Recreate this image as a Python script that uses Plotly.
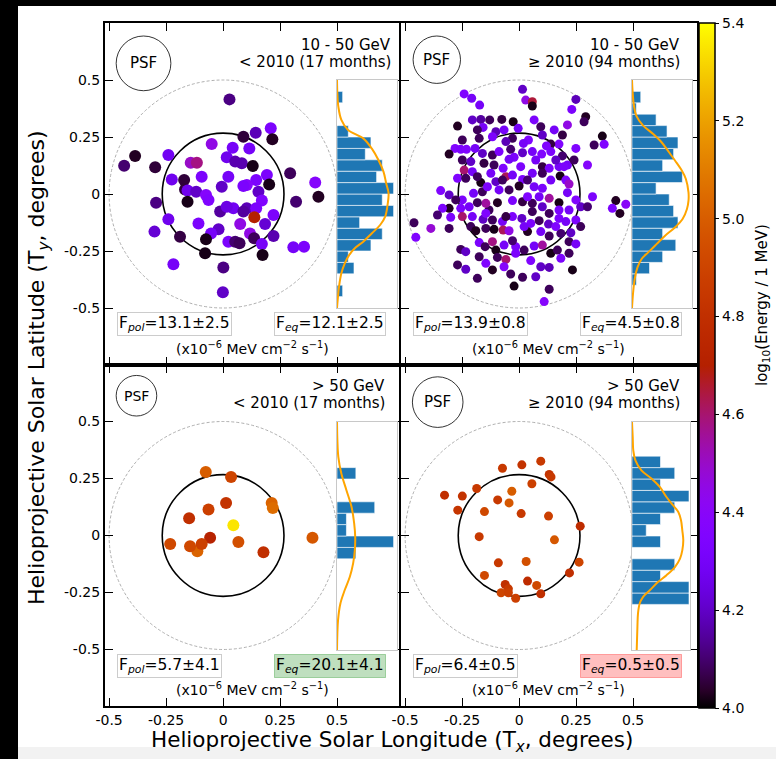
import numpy as np
import plotly.graph_objects as go

W, H = 776, 759

# ---------------- data ----------------
# Top-left: 10-50 GeV, < 2010
tl_x = [0.028, 0.143, 0.209, 0.089, 0.216, -0.050, 0.042, 0.115, -0.386, -0.434,
        -0.298, -0.240, -0.142, -0.115, 0.016, 0.053, 0.082, 0.130, 0.294, -0.225,
        -0.171, -0.094, 0.023, 0.192, 0.145, 0.104, 0.202, 0.404, -0.167, -0.156,
        -0.118, -0.075, -0.006, 0.089, 0.155, 0.418, -0.156, -0.294, -0.064, 0.170,
        0.320, -0.013, 0.045, 0.104, 0.145, 0.137, 0.221, -0.240, -0.108, 0.075,
        0.184, -0.301, -0.020, -0.053, 0.118, -0.189, -0.075, 0.221, 0.136, 0.023,
        0.053, 0.072, 0.170, 0.308, 0.355, -0.079, 0.173, -0.218, 0.001, -0.001,
        0.016, 0.089]
tl_y = [0.415, 0.269, 0.288, 0.251, 0.240, 0.219, 0.203, 0.200, 0.167, 0.124,
        0.117, 0.171, 0.137, 0.137, 0.161, 0.142, 0.135, 0.123, 0.091, 0.064,
        0.061, 0.076, 0.076, 0.083, 0.061, 0.039, 0.042, 0.050, 0.020, 0.015,
        0.010, -0.004, 0.032, 0.035, 0.010, -0.012, -0.034, -0.038, -0.026, -0.029,
        -0.034, -0.077, -0.063, -0.063, -0.063, -0.102, -0.092, -0.111, -0.129, -0.132,
        -0.132, -0.165, -0.155, -0.173, -0.173, -0.187, -0.199, -0.184, -0.194, -0.209,
        -0.209, -0.216, -0.219, -0.234, -0.231, -0.260, -0.268, -0.308, -0.322, -0.431,
        -0.056, -0.077]
tl_e = [4.12, 4.18, 4.33, 4.05, 4.03, 4.45, 4.30, 4.30, 4.03, 4.10,
        4.05, 4.28, 4.50, 4.58, 4.27, 4.17, 4.17, 4.02, 4.08, 4.27,
        4.05, 4.33, 4.30, 4.33, 4.33, 4.38, 4.02, 4.38, 4.05, 4.27,
        4.20, 4.38, 4.20, 4.33, 4.20, 4.03, 4.02, 4.12, 4.35, 4.35,
        4.10, 4.15, 4.28, 4.18, 4.33, 4.70, 4.33, 4.27, 4.33, 4.45,
        4.22, 4.22, 4.20, 4.30, 4.45, 4.06, 4.02, 4.17, 4.08, 4.33,
        4.10, 4.08, 4.30, 4.30, 4.33, 4.02, 4.02, 4.30, 4.12, 4.20,
        4.25, 4.15]

# Top-right: 10-50 GeV, >= 2010
tr_x = [-0.241, -0.208, 0.015, 0.029, 0.058, 0.058, 0.249, 0.231, -0.173, 0.292,
        0.285, 0.212, 0.095, -0.270, -0.168, -0.129, -0.076, -0.026, -0.158, -0.102,
        -0.066, -0.004, -0.183, 0.102, 0.041, 0.365, 0.373, 0.329, 0.175, 0.139,
        -0.029, -0.058, -0.117, -0.175, 0.019, -0.037, -0.281, -0.256, -0.231, -0.193,
        -0.307, -0.161, -0.117, -0.022, 0.015, 0.058, 0.099, 0.139, 0.190, 0.249,
        0.300, 0.212, -0.249, -0.212, -0.154, -0.110, -0.044, 0.007, 0.102, 0.132,
        0.175, -0.241, -0.205, -0.270, -0.234, -0.168, -0.124, -0.102, -0.058, -0.073,
        -0.029, 0.015, 0.058, 0.102, 0.139, 0.180, 0.205, 0.219, 0.000, 0.037,
        0.066, 0.102, -0.344, -0.307, -0.249, -0.200, -0.161, -0.088, -0.029, 0.015,
        0.058, 0.102, 0.132, 0.175, 0.212, 0.322, 0.424, 0.468, 0.409, 0.442,
        0.270, 0.219, 0.175, 0.132, 0.058, -0.095, -0.132, -0.146, -0.183, -0.219,
        -0.256, -0.307, -0.461, -0.453, -0.387, -0.307, -0.300, -0.249, -0.205, -0.158,
        -0.117, -0.073, -0.029, 0.012, 0.051, 0.088, 0.129, 0.175, 0.205, -0.212,
        -0.190, -0.146, -0.110, -0.070, -0.044, 0.037, 0.132, 0.183, 0.227, -0.256,
        -0.234, -0.175, -0.149, -0.117, -0.102, -0.066, -0.015, 0.022, 0.066, 0.102,
        0.139, 0.168, 0.219, 0.183, -0.095, -0.058, -0.146, -0.066, -0.270, -0.234,
        0.051, 0.095, 0.132, 0.234, -0.037, 0.015, -0.183, -0.022, 0.132, 0.110,
        0.120, 0.197, 0.241, 0.161, 0.073, -0.070, -0.183, -0.139, -0.044, 0.088,
        0.249, 0.300, 0.249, 0.270, 0.095, -0.029, 0.249, 0.219, 0.073, -0.336,
        -0.278, -0.358, -0.146, -0.058, 0.022, 0.161, -0.015, -0.175, -0.117, 0.037,
        -0.088, -0.249, 0.154, 0.190, 0.066, -0.205]
tr_y = [0.439, 0.420, 0.459, 0.412, 0.405, 0.386, 0.415, 0.371, 0.390, 0.339,
        0.317, 0.303, 0.295, 0.298, 0.327, 0.325, 0.327, 0.317, 0.292, 0.273,
        0.281, 0.288, 0.281, 0.259, 0.237, 0.254, 0.218, 0.215, 0.219, 0.219,
        0.244, 0.230, 0.251, 0.244, 0.222, 0.196, 0.200, 0.196, 0.196, 0.200,
        0.175, 0.178, 0.171, 0.161, 0.181, 0.186, 0.175, 0.186, 0.167, 0.200,
        0.127, 0.127, 0.149, 0.142, 0.135, 0.127, 0.152, 0.120, 0.120, 0.113,
        0.120, 0.105, 0.098, 0.069, 0.069, 0.050, 0.091, 0.054, 0.076, 0.061,
        0.083, 0.064, 0.091, 0.091, 0.061, 0.079, 0.061, 0.044, 0.035, 0.061,
        0.032, 0.025, 0.015, -0.004, -0.026, 0.003, 0.010, 0.018, -0.029, -0.034,
        -0.041, -0.056, -0.019, -0.038, 0.006, -0.012, -0.029, -0.045, -0.063, -0.085,
        -0.056, -0.070, -0.070, -0.085, -0.077, -0.038, -0.070, -0.041, -0.038, -0.056,
        -0.063, -0.063, -0.126, -0.190, -0.151, -0.151, -0.102, -0.099, -0.099, -0.111,
        -0.114, -0.121, -0.099, -0.107, -0.129, -0.117, -0.132, -0.107, -0.121, -0.143,
        -0.161, -0.151, -0.155, -0.158, -0.161, -0.165, -0.184, -0.173, -0.170, -0.243,
        -0.253, -0.213, -0.231, -0.209, -0.246, -0.224, -0.231, -0.246, -0.228, -0.224,
        -0.260, -0.246, -0.209, -0.282, -0.278, -0.287, -0.304, -0.319, -0.311, -0.330,
        -0.292, -0.319, -0.322, -0.333, -0.351, -0.365, -0.370, -0.404, -0.418, -0.472,
        0.211, 0.120, 0.149, 0.149, 0.149, 0.113, 0.076, 0.032, 0.018, -0.012,
        -0.026, -0.056, -0.114, -0.143, -0.165, -0.205, -0.219, -0.260, -0.363, -0.063,
        -0.026, -0.092, -0.085, -0.099, -0.143, -0.143, -0.260, -0.275, -0.333, -0.012,
        0.186, 0.237, 0.281, 0.259, 0.325, 0.325]
tr_e = [4.35, 4.30, 4.20, 4.45, 4.65, 4.02, 4.18, 4.33, 4.30, 4.03,
        4.08, 4.45, 4.08, 4.03, 4.15, 4.08, 4.06, 4.02, 4.30, 4.18,
        4.30, 4.30, 4.08, 4.20, 4.35, 4.02, 4.35, 4.08, 4.35, 4.06,
        4.08, 4.18, 4.33, 4.08, 4.30, 4.10, 4.35, 4.33, 4.35, 4.30,
        4.03, 4.20, 4.08, 4.33, 4.20, 4.30, 4.35, 4.33, 4.10, 4.35,
        4.38, 4.30, 4.08, 4.20, 4.06, 4.08, 4.30, 4.33, 4.06, 4.33,
        4.30, 4.60, 4.30, 4.35, 4.08, 4.02, 4.30, 4.20, 4.62, 4.08,
        4.30, 4.33, 4.30, 4.08, 4.30, 4.02, 4.35, 4.50, 4.03, 4.10,
        4.30, 4.33, 4.35, 4.20, 4.33, 4.30, 4.08, 4.30, 4.33, 4.06,
        4.08, 4.20, 4.55, 4.02, 4.30, 4.33, 4.03, 4.40, 4.33, 4.03,
        4.20, 4.30, 4.33, 4.08, 4.08, 4.03, 4.08, 4.55, 4.08, 4.30,
        4.33, 4.03, 4.08, 4.35, 4.48, 4.08, 4.33, 4.60, 4.30, 4.20,
        4.08, 4.30, 4.33, 4.20, 4.33, 4.08, 4.20, 4.33, 4.30, 4.08,
        4.03, 4.08, 4.02, 4.62, 4.45, 4.03, 4.08, 4.10, 4.20, 4.08,
        4.20, 4.33, 4.08, 4.58, 4.02, 4.30, 4.33, 4.08, 4.30, 4.55,
        4.02, 4.08, 4.08, 4.33, 4.08, 4.60, 4.35, 4.38, 4.08, 4.20,
        4.35, 4.20, 4.18, 4.02, 4.08, 4.08, 4.08, 4.02, 4.08, 4.38,
        4.35, 4.33, 4.08, 4.20, 4.30, 4.35, 4.08, 4.33, 4.08, 4.30,
        4.35, 4.10, 4.33, 4.08, 4.30, 4.10, 4.30, 4.08, 4.20, 4.33,
        4.08, 4.10, 4.35, 4.06, 4.30, 4.35, 4.33, 4.08, 4.03, 4.35,
        4.33, 4.08, 4.30, 4.06, 4.33, 4.20]

# Bottom-left: > 50 GeV, < 2010
bl_x = [-0.076, 0.035, 0.213, 0.218, 0.013, -0.064, -0.149, 0.045, -0.113, -0.057,
        -0.232, -0.145, -0.094, 0.067, 0.177, 0.392]
bl_y = [0.279, 0.257, 0.143, 0.121, 0.143, 0.114, 0.076, 0.045, -0.069, -0.010,
        -0.037, -0.047, -0.037, -0.029, -0.073, -0.010]
bl_e = [5.00, 4.90, 5.02, 5.05, 4.82, 4.88, 4.80, 5.35, 5.02, 4.72,
        4.92, 4.92, 4.88, 4.95, 4.80, 4.98]

# Bottom-right: > 50 GeV, >= 2010
br_x = [0.095, 0.012, -0.073, 0.132, 0.140, 0.056, -0.186, -0.032, -0.327, -0.249,
        -0.094, -0.044, -0.269, -0.152, 0.009, 0.129, 0.268, -0.175, 0.155, -0.091,
        0.031, 0.263, 0.221, -0.152, 0.037, 0.077, -0.061, -0.047, -0.079, -0.047,
        0.095, -0.015]
br_y = [0.326, 0.310, 0.295, 0.268, 0.257, 0.227, 0.206, 0.194, 0.177, 0.173,
        0.156, 0.143, 0.111, 0.105, 0.096, 0.085, 0.041, -0.005, -0.019, -0.120,
        -0.114, -0.117, -0.164, -0.175, -0.200, -0.219, -0.215, -0.234, -0.251, -0.251,
        -0.256, -0.275]
br_e = [4.85, 4.82, 4.85, 4.82, 4.85, 4.88, 4.85, 5.00, 4.80, 4.82,
        4.85, 4.98, 4.83, 4.92, 4.85, 4.88, 4.78, 4.85, 4.98, 4.85,
        4.95, 4.90, 4.80, 4.92, 4.78, 4.92, 4.80, 4.85, 4.90, 4.88,
        4.80, 4.88]

# latitude histograms (bins of 0.05 deg from -0.5 to 0.5)
bin_centers = [-0.475, -0.425, -0.375, -0.325, -0.275, -0.225, -0.175, -0.125, -0.075, -0.025,
               0.025, 0.075, 0.125, 0.175, 0.225, 0.275, 0.325, 0.375, 0.425, 0.475]
tl_counts = [0, 1, 0, 3, 2, 6, 8, 4, 10, 8, 10, 7, 8, 5, 6, 2, 0, 0, 1, 0]
tr_counts = [0, 0, 2, 8, 14, 20, 14, 21, 19, 17, 11, 23, 14, 19, 21, 16, 11, 2, 4, 0]
bl_counts = [0, 0, 0, 0, 0, 0, 0, 0, 2, 6, 1, 1, 4, 0, 0, 2, 0, 0, 0, 0]
br_counts = [0, 0, 0, 0, 4, 4, 2, 3, 0, 2, 1, 2, 3, 4, 2, 3, 2, 0, 0, 0]

# smooth latitude profiles (orange curves)
tl_curve_y = [0.5, 0.442, 0.383, 0.325, 0.281, 0.244, 0.200, 0.149, 0.098, 0.047, 0.003,
              -0.048, -0.099, -0.136, -0.173, -0.209, -0.238, -0.268, -0.304, -0.348, -0.406, -0.465, -0.5]
tl_curve_x = [0, 0.06, 0.24, 0.77, 1.96, 4.64, 6.13, 7.32, 8.21, 8.69, 9.11,
              8.93, 8.51, 7.62, 6.13, 4.64, 3.15, 2.14, 1.37, 0.77, 0.36, 0.12, 0]
tr_curve_y = [0.5, 0.446, 0.387, 0.343, 0.300, 0.263, 0.227, 0.183, 0.146, 0.102, 0.066, 0.007,
              -0.029, -0.066, -0.110, -0.146, -0.183, -0.220, -0.256, -0.286, -0.322, -0.374, -0.433, -0.5]
tr_curve_x = [0, 0.3, 0.9, 2.0, 5.1, 9.7, 13.5, 16.9, 19.7, 22.8, 24.6, 25.8,
              25.8, 25.1, 23.1, 19.7, 15.1, 11.2, 7.4, 4.3, 2.5, 1.2, 0.5, 0]
bl_curve_y = [0.5, 0.420, 0.347, 0.274, 0.201, 0.128, 0.055, -0.004, -0.062, -0.120, -0.179,
              -0.237, -0.296, -0.369, -0.5]
bl_curve_x = [0, 0.04, 0.14, 0.46, 1.0, 1.54, 1.82, 1.93, 1.89, 1.71, 1.36, 0.82, 0.36, 0.11, 0]
br_curve_y = [0.5, 0.434, 0.376, 0.332, 0.288, 0.252, 0.215, 0.171, 0.134, 0.105, 0.069, 0.025,
              -0.019, -0.063, -0.099, -0.136, -0.172, -0.201, -0.238, -0.267, -0.296, -0.340, -0.398, -0.5]
br_curve_x = [0, 0.05, 0.09, 0.24, 0.66, 1.36, 1.95, 2.42, 2.89, 3.25, 3.44, 3.53,
              3.60, 3.53, 3.37, 3.01, 2.42, 1.84, 1.25, 0.78, 0.54, 0.42, 0.38, 0.33]
hist_xmax = [10.6, 27.4, 6.36, 4.07]

energy_labels = ["10 - 50 GeV", "10 - 50 GeV", "> 50 GeV", "> 50 GeV"]
period_labels = ["< 2010 (17 months)", "\u2265 2010 (94 months)", "< 2010 (17 months)", "\u2265 2010 (94 months)"]
f_pol = ["13.1\u00b12.5", "13.9\u00b10.8", "5.7\u00b14.1", "6.4\u00b10.5"]
f_eq = ["12.1\u00b12.5", "4.5\u00b10.8", "20.1\u00b14.1", "0.5\u00b10.5"]
psf_center_x = [-0.349, -0.361, -0.380, -0.357]
psf_center_y = [0.573, 0.589, 0.613, 0.585]
psf_radius = [0.120, 0.104, 0.089, 0.111]
sun_radius = 0.267
outer_radius = 0.5
axis_ticks = [-0.5, -0.25, 0, 0.25, 0.5]
axis_ticktext = ["-0.5", "-0.25", "0", "0.25", "0.5"]
cbar_ticks = [4.0, 4.2, 4.4, 4.6, 4.8, 5.0, 5.2, 5.4]
cbar_ticktext = ["4.0", "4.2", "4.4", "4.6", "4.8", "5.0", "5.2", "5.4"]

# ---------------- style ----------------
FONT = "DejaVu Sans"
SCALE = 228.0  # px per degree
eq_bg = ["white", "white", "rgba(0,128,0,0.25)", "rgba(255,0,0,0.25)"]
eq_border = ["#cccccc", "#cccccc", "rgba(0,128,0,0.3)", "rgba(255,0,0,0.3)"]
marker_size = [12, 9, 12, 9]
psf_font = [15, 15, 14, 15]
title_right = [0.746, 0.715, 0.719, 0.715]

# gnuplot colormap
def gnuplot(v):
    r = np.sqrt(v)
    g = v ** 3
    b = np.clip(np.sin(2 * np.pi * v), 0, 1)
    return "rgb(%d,%d,%d)" % (round(r * 255), round(g * 255), round(b * 255))

colorscale = [[float(v), gnuplot(v)] for v in np.linspace(0, 1, 41)]

panels = [
    dict(px=(105, 399), py=(23, 365), ipx=(337, 397), ipy=(80, 308)),
    dict(px=(401, 697), py=(23, 365), ipx=(632, 692), ipy=(80, 308)),
    dict(px=(105, 399), py=(365, 706), ipx=(337, 397), ipy=(422, 650)),
    dict(px=(401, 697), py=(365, 706), ipx=(632, 690), ipy=(422, 650)),
]
scat = [(tl_x, tl_y, tl_e), (tr_x, tr_y, tr_e), (bl_x, bl_y, bl_e), (br_x, br_y, br_e)]
counts = [tl_counts, tr_counts, bl_counts, br_counts]
curves = [(tl_curve_x, tl_curve_y), (tr_curve_x, tr_curve_y), (bl_curve_x, bl_curve_y), (br_curve_x, br_curve_y)]

fig = go.Figure()
layout = {}
shapes = []
annotations = []

for i, p in enumerate(panels):
    k = i + 1
    ki = i + 5
    xs = "" if k == 1 else str(k)
    xa, ya = "x" + xs, "y" + xs
    xai, yai = "x%d" % ki, "y%d" % ki
    px0, px1 = p["px"]
    py0, py1 = p["py"]
    xr = [-0.518, -0.518 + (px1 - px0) / SCALE]
    hy = (py1 - py0) / SCALE / 2
    yr = [-hy, hy]
    bottom = i >= 2
    left = i % 2 == 0
    common = dict(showline=True, linecolor="black", linewidth=2, mirror="ticks",
                  ticks="inside", ticklen=8, tickwidth=1.2, tickcolor="black",
                  tickvals=axis_ticks, ticktext=axis_ticktext,
                  tickfont=dict(family=FONT, size=14, color="black"),
                  showgrid=False, zeroline=False, automargin=False)
    layout["xaxis" + xs] = dict(domain=[px0 / W, px1 / W], range=xr, anchor=ya,
                                showticklabels=bottom, **common)
    layout["yaxis" + xs] = dict(domain=[1 - py1 / H, 1 - py0 / H], range=yr, anchor=xa,
                                showticklabels=left, **common)
    ipx0, ipx1 = p["ipx"]
    ipy0, ipy1 = p["ipy"]
    inset = dict(showline=True, linecolor="#c8c8c8", linewidth=1, mirror=True, ticks="",
                 showticklabels=False, showgrid=False, zeroline=False, automargin=False)
    layout["xaxis%d" % ki] = dict(domain=[ipx0 / W, ipx1 / W], range=[0, hist_xmax[i]], anchor=yai, **inset)
    layout["yaxis%d" % ki] = dict(domain=[1 - ipy1 / H, 1 - ipy0 / H], range=[-0.5, 0.5], anchor=xai, **inset)

    # circles
    shapes.append(dict(type="circle", xref=xa, yref=ya, x0=-outer_radius, x1=outer_radius,
                       y0=-outer_radius, y1=outer_radius, layer="below",
                       line=dict(color="#9a9a9a", width=0.8, dash="3px,2px")))
    shapes.append(dict(type="circle", xref=xa, yref=ya, x0=-sun_radius, x1=sun_radius,
                       y0=-sun_radius, y1=sun_radius, layer="below",
                       line=dict(color="black", width=1.6)))
    cx, cy, r = psf_center_x[i], psf_center_y[i], psf_radius[i]
    shapes.append(dict(type="circle", xref=xa, yref=ya, x0=cx - r, x1=cx + r, y0=cy - r, y1=cy + r,
                       line=dict(color="black", width=0.8)))

    # scatter
    sx, sy, se = scat[i]
    fig.add_trace(go.Scatter(x=sx, y=sy, mode="markers", xaxis=xa, yaxis=ya,
                             marker=dict(color=se, coloraxis="coloraxis", size=marker_size[i],
                                         line=dict(width=0)),
                             hoverinfo="skip"))
    # histogram
    fig.add_trace(go.Bar(x=counts[i], y=bin_centers, orientation="h", width=0.05,
                         xaxis=xai, yaxis=yai,
                         marker=dict(color="#1f77b4", line=dict(color="white", width=0.6))))
    cxv, cyv = curves[i]
    fig.add_trace(go.Scatter(x=cxv, y=cyv, mode="lines", xaxis=xai, yaxis=yai,
                             line=dict(color="orange", width=2, shape="spline")))

    # texts
    annotations.append(dict(text="PSF", x=cx, y=cy, xref=xa, yref=ya, showarrow=False,
                            font=dict(family=FONT, size=psf_font[i], color="black")))
    annotations.append(dict(text=energy_labels[i], x=title_right[i], y=0.654, xref=xa, yref=ya,
                            xanchor="right", yanchor="middle", showarrow=False,
                            font=dict(family=FONT, size=15, color="black")))
    annotations.append(dict(text=period_labels[i], x=title_right[i], y=0.580, xref=xa, yref=ya,
                            xanchor="right", yanchor="middle", showarrow=False,
                            font=dict(family=FONT, size=15, color="black")))
    annotations.append(dict(text="F<sub><i>pol</i></sub>=" + f_pol[i], x=-0.465, y=-0.572,
                            xref=xa, yref=ya, xanchor="left", yanchor="middle", showarrow=False,
                            bgcolor="white", bordercolor="#cccccc", borderwidth=1, borderpad=1,
                            font=dict(family=FONT, size=15.5, color="black")))
    annotations.append(dict(text="F<sub><i>eq</i></sub>=" + f_eq[i], x=0.715, y=-0.572,
                            xref=xa, yref=ya, xanchor="right", yanchor="middle", showarrow=False,
                            bgcolor=eq_bg[i], bordercolor=eq_border[i], borderwidth=1, borderpad=1,
                            font=dict(family=FONT, size=15.5, color="black")))
    annotations.append(dict(text="(x10<sup>\u22126</sup> MeV cm<sup>\u22122</sup> s<sup>\u22121</sup>)",
                            x=0.128, y=-0.675, xref=xa, yref=ya, xanchor="center", yanchor="middle",
                            showarrow=False, font=dict(family=FONT, size=14, color="black")))

# axis titles
annotations.append(dict(text="Helioprojective Solar Longitude (T<sub><i>x</i></sub>, degrees)",
                        x=392 / W, y=1 - 741 / H, xref="paper", yref="paper", showarrow=False,
                        xanchor="center", yanchor="middle",
                        font=dict(family=FONT, size=21.5, color="black")))
annotations.append(dict(text="Helioprojective Solar Latitude (T<sub><i>y</i></sub>, degrees)",
                        x=38 / W, y=1 - 368 / H, xref="paper", yref="paper", showarrow=False,
                        xanchor="center", yanchor="middle", textangle=-90,
                        font=dict(family=FONT, size=22, color="black")))
annotations.append(dict(text="log<sub>10</sub>(Energy / 1 MeV)",
                        x=762 / W, y=1 - 305 / H, xref="paper", yref="paper", showarrow=False,
                        xanchor="center", yanchor="middle", textangle=-90,
                        font=dict(family=FONT, size=15, color="black")))

# page framing (black strips / grey band of the scanned page)
shapes.append(dict(type="rect", xref="paper", yref="paper", x0=0, x1=18 / W, y0=0, y1=1,
                   fillcolor="black", line=dict(width=0), layer="above"))
shapes.append(dict(type="rect", xref="paper", yref="paper", x0=0, x1=1, y0=1 - 6 / H, y1=1,
                   fillcolor="black", line=dict(width=0), layer="above"))
shapes.append(dict(type="rect", xref="paper", yref="paper", x0=18 / W, x1=1, y0=0, y1=12 / H,
                   fillcolor="#f2f2f2", line=dict(width=0), layer="below"))

fig.update_layout(
    width=W, height=H, margin=dict(l=0, r=0, t=0, b=0, pad=0, autoexpand=False),
    paper_bgcolor="white", plot_bgcolor="white", showlegend=False,
    font=dict(family=FONT, color="black"),
    coloraxis=dict(colorscale=colorscale, cmin=4.0, cmax=5.4,
                   colorbar=dict(x=699 / W, xanchor="left", xpad=0, ypad=0,
                                 y=1 - 365.5 / H, yanchor="middle", len=685, lenmode="pixels",
                                 thickness=16, thicknessmode="pixels",
                                 outlinecolor="black", outlinewidth=1.5,
                                 tickvals=cbar_ticks, ticktext=cbar_ticktext,
                                 ticks="outside", ticklen=4, tickcolor="black",
                                 tickfont=dict(family=FONT, size=14, color="black"))),
    shapes=shapes, annotations=annotations,
    **layout,
)

post = (
    "document.body.style.margin='0';document.body.style.padding='0';"
    "document.body.style.overflow='hidden';"
    "function strip(l,t,w,h){var d=document.createElement('div');"
    "d.style.cssText='position:fixed;left:'+l+'px;top:'+t+'px;width:'+w+'px;height:'+h+'px;"
    "background:#000;z-index:1000;pointer-events:none';document.body.appendChild(d);}"
    "strip(0,0,18,%d);strip(0,0,%d,6);" % (H, W)
)
fig.write_html("out.html", config={"displayModeBar": False}, post_script=post)
